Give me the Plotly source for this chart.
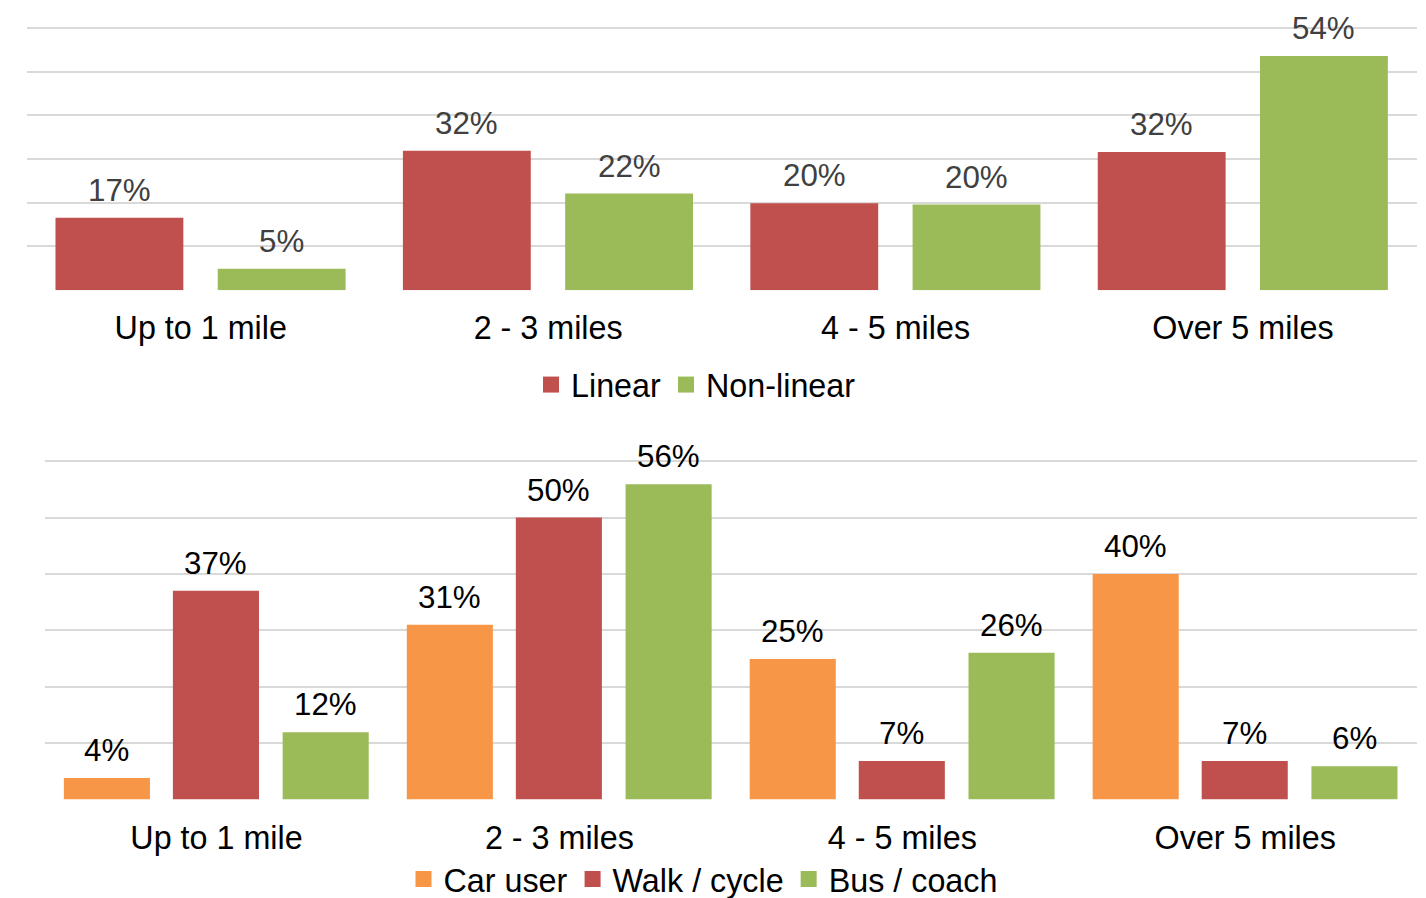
import plotly.graph_objects as go

# ---- data ----
categories = ["Up to 1 mile", "2 - 3 miles", "4 - 5 miles", "Over 5 miles"]

top_series = ["Linear", "Non-linear"]
linear = [16.6, 31.9, 19.9, 31.6]
non_linear = [4.9, 22.1, 19.6, 53.6]

bottom_series = ["Car user", "Walk / cycle", "Bus / coach"]
car_user = [3.8, 31.0, 24.9, 40.0]
walk_cycle = [37.0, 50.0, 6.8, 6.8]
bus_coach = [11.9, 55.9, 26.0, 5.9]

# ---- style ----
RED = "#C0504D"
GREEN = "#9BBB59"
ORANGE = "#F79646"
GRID = "#D9D9D9"
FONT = "Liberation Sans, Arial, sans-serif"

W, H = 1426, 898      # reference frame (pixel positions below are in this frame)
FIG_H = 907           # figure height
YTOP = 61             # axis top slightly above last gridline (60) so it is drawn

fig = go.Figure()

top_vals = [linear, non_linear]
top_cols = [RED, GREEN]
top_offsets = [-0.418, 0.049]
top_width = 0.368

bot_vals = [car_user, walk_cycle, bus_coach]
bot_cols = [ORANGE, RED, GREEN]
bot_offsets = [-0.445, -0.127, 0.193]
bot_width = 0.251

annotations = []


def add_group(series, values, colors, offsets, width, xa, ya, leg, label_color):
    for name, vals, col, off in zip(series, values, colors, offsets):
        fig.add_trace(go.Bar(
            x=categories, y=vals, name=name,
            marker=dict(color=col, line=dict(width=0)),
            width=width, offset=off, xaxis=xa, yaxis=ya,
            showlegend=False, hoverinfo="skip",
        ))
        # legend entry with a larger square swatch
        fig.add_trace(go.Scatter(
            x=[None], y=[None], name=name, mode="markers",
            marker=dict(symbol="square", size=16, color=col),
            xaxis=xa, yaxis=ya, legend=leg, hoverinfo="skip",
        ))
        for i, v in enumerate(vals):
            annotations.append(dict(
                x=i + off + width / 2, y=v,
                xref=xa, yref=ya,
                text=f"{v:.0f}%", showarrow=False, yanchor="bottom", yshift=8,
                font=dict(family=FONT, size=31.3, color=label_color),
            ))


add_group(top_series, top_vals, top_cols, top_offsets, top_width, "x", "y", "legend", "#404040")
add_group(bottom_series, bot_vals, bot_cols, bot_offsets, bot_width, "x2", "y2", "legend2", "#000000")

xaxis_common = dict(
    type="category", showgrid=False, zeroline=False, showline=False,
    ticks="", tickfont=dict(family=FONT, size=32.3, color="#000000"),
    range=[-0.5, 3.5], fixedrange=True, ticklabelstandoff=16,
)
yaxis_common = dict(
    range=[0, YTOP], tickvals=[0, 10, 20, 30, 40, 50, 60], showgrid=True,
    gridcolor=GRID, gridwidth=1.5,
    zeroline=False, showticklabels=False, ticks="", fixedrange=True,
)

legend_common = dict(
    orientation="h", xanchor="center", yanchor="middle",
    font=dict(family=FONT, size=32.3, color="#000000"),
    bgcolor="rgba(0,0,0,0)", itemclick=False, itemdoubleclick=False,
)

# pixel geometry of the two plot areas (baseline and 60% line)
top_base, top_60 = 290.5, 28.0
bot_base, bot_60 = 800.3, 461.7
top_top = top_base - (top_base - top_60) * YTOP / 60
bot_top = bot_base - (bot_base - bot_60) * YTOP / 60

fig.update_layout(
    width=W, height=FIG_H, autosize=False,
    margin=dict(l=0, r=0, t=0, b=0),
    paper_bgcolor="white", plot_bgcolor="white",
    font=dict(family=FONT, size=31, color="#000000"),
    xaxis=dict(**xaxis_common, domain=[27 / W, 1416.7 / W], anchor="y"),
    yaxis=dict(**yaxis_common, domain=[1 - top_base / H, 1 - top_top / H], anchor="x"),
    xaxis2=dict(**xaxis_common, domain=[45 / W, 1416.7 / W], anchor="y2"),
    yaxis2=dict(**yaxis_common, domain=[1 - bot_base / H, 1 - bot_top / H], anchor="x2"),
    legend=dict(**legend_common, x=696 / W, y=1 - 385 / H),
    legend2=dict(**legend_common, x=703 / W, y=1 - 880 / H),
    annotations=annotations,
    showlegend=True,
)

fig.write_html(
    "out.html",
    config={"displayModeBar": False},
    post_script=(
        "document.documentElement.style.margin='0';"
        "document.documentElement.style.overflow='hidden';"
        "document.body.style.margin='0';document.body.style.padding='0';"
        "document.body.style.overflow='hidden';"
    ),
)
